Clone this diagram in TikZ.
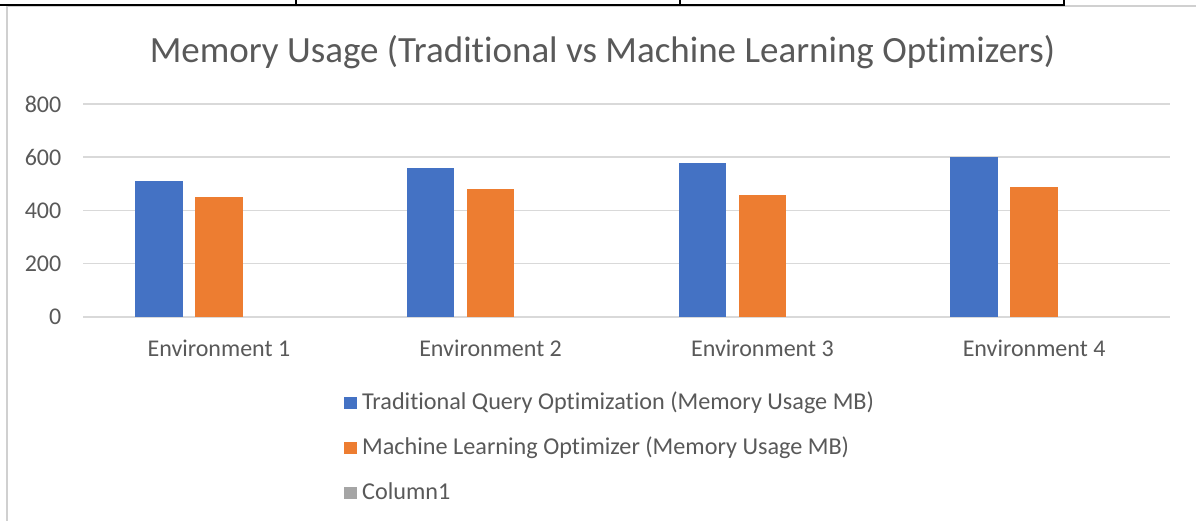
\documentclass[tikz,border=0pt]{standalone}
\usepackage{fontspec}
\setmainfont{Carlito}[Ligatures=NoCommon]
\definecolor{txt}{HTML}{595959}
\definecolor{gridc}{HTML}{D9D9D9}
\definecolor{frame}{HTML}{D0D0D0}
\definecolor{blueb}{HTML}{4472C4}
\definecolor{orangeb}{HTML}{ED7D31}
\definecolor{grayb}{HTML}{A5A5A5}
\tikzset{
  gridline/.style={draw=gridc, line width=1.5pt},
  tableline/.style={draw=black, line width=2pt},
  axislabel/.style={text=txt, inner sep=0pt, font=\fontsize{24}{28}\selectfont},
  legendlabel/.style={text=txt, inner sep=0pt, anchor=base west, font=\fontsize{24.2}{28}\selectfont},
  titlelabel/.style={text=txt, inner sep=0pt, anchor=base, font=\fontsize{37}{42}\selectfont},
  bluebar/.style={fill=blueb},
  orangebar/.style={fill=orangeb},
  graykey/.style={fill=grayb},
}
\begin{document}
\begin{tikzpicture}[x=1pt,y=-1pt]
\useasboundingbox (0,0) rectangle (1196,521);
\fill[white] (0,0) rectangle (1196,521);
% chart frame
\draw[draw=frame, line width=1.5pt] (7,521) -- (7,6) -- (1196,6);
% table borders above
\draw[tableline] (0,5) -- (1064,5);
\draw[tableline] (296,0) -- (296,5);
\draw[tableline] (680,0) -- (680,5);
\draw[tableline] (1064,0) -- (1064,6);
% title
\node[titlelabel] (title) at (602.5,62.3) {Memory Usage (Traditional vs Machine Learning Optimizers)};
% grid and y labels
\foreach \v/\nm in {0/y0,200/y200,400/y400,600/y600,800/y800}{
  \draw[gridline] (83,{317-0.26625*\v}) -- (1170,{317-0.26625*\v});
  \node[axislabel, anchor=east] (\nm) at (61.5,{317-0.26625*\v}) {\v};
}
% bars
\foreach \i/\b/\o in {0/510/450,1/560/480,2/580/460,3/600/490}{
  \pgfmathsetmacro{\c}{83+271.75*(\i+0.5)}
  \fill[bluebar] ({\c-60-23.65},317) rectangle ({\c-60+23.65},{317-0.26625*\b});
  \fill[orangebar] ({\c-23.65},317) rectangle ({\c+23.65},{317-0.26625*\o});
}
% category labels
\node[axislabel, anchor=base] (env1) at (218.9,356.5) {Environment 1};
\node[axislabel, anchor=base] (env2) at (490.6,356.5) {Environment 2};
\node[axislabel, anchor=base] (env3) at (762.4,356.5) {Environment 3};
\node[axislabel, anchor=base] (env4) at (1034.1,356.5) {Environment 4};
% legend
\fill[bluebar] (344,396.6) rectangle (356.5,409.1);
\node[legendlabel] (leg1) at (362,409.6) {Traditional Query Optimization (Memory Usage MB)};
\fill[orangebar] (344,441.6) rectangle (356.5,454.1);
\node[legendlabel] (leg2) at (362,454.6) {Machine Learning Optimizer (Memory Usage MB)};
\fill[graykey] (344,486.6) rectangle (356.5,499.1);
\node[legendlabel] (leg3) at (362,499.6) {Column1};
\end{tikzpicture}
\end{document}
